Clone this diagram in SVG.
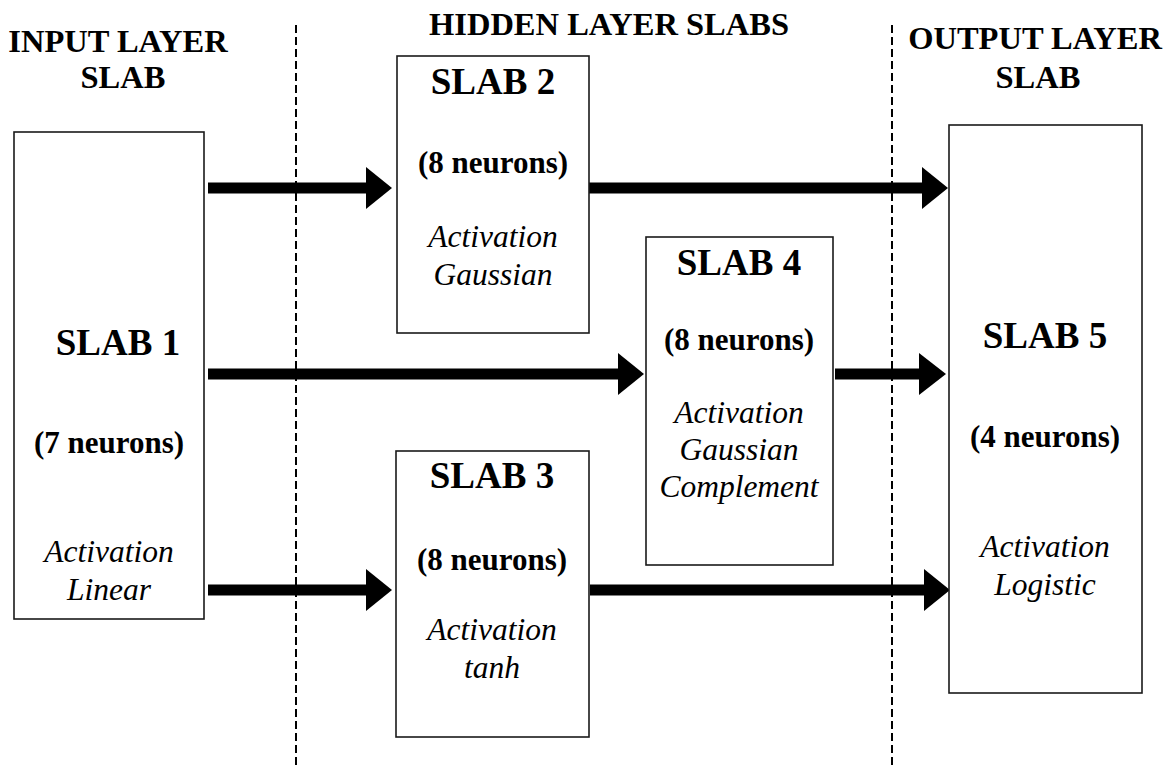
<svg xmlns="http://www.w3.org/2000/svg" width="1169" height="769" viewBox="0 0 1169 769">
<style>
  .box { fill: #ffffff; stroke: #1a1a1a; stroke-width: 1.6; }
  .hdr { font-family: "Liberation Serif", "Times New Roman", serif; font-weight: bold; font-size: 32.5px; text-anchor: middle; fill: #000; }
  .ttl { font-family: "Liberation Serif", "Times New Roman", serif; font-weight: bold; font-size: 37px; text-anchor: middle; fill: #000; }
  .cnt { font-family: "Liberation Serif", "Times New Roman", serif; font-weight: bold; font-size: 31px; text-anchor: middle; fill: #000; }
  .act { font-family: "Liberation Serif", "Times New Roman", serif; font-style: italic; font-size: 31.5px; text-anchor: middle; fill: #000; }
  .dash { stroke: #000; stroke-width: 2; stroke-dasharray: 8 4; fill: none; }
  .shaft { stroke: #000; stroke-width: 11; fill: none; }
  .head { fill: #000; }
</style>
<rect width="1169" height="769" fill="#ffffff"/>

<g id="headers">
  <text class="hdr" x="118" y="52">INPUT LAYER</text>
  <text class="hdr" x="123" y="88">SLAB</text>
  <text class="hdr" x="609" y="35">HIDDEN LAYER SLABS</text>
  <text class="hdr" x="1035" y="49">OUTPUT LAYER</text>
  <text class="hdr" x="1038" y="88">SLAB</text>
</g>

<g id="separators">
  <line class="dash" x1="296" y1="25" x2="296" y2="769"/>
  <line class="dash" x1="892" y1="25" x2="892" y2="769"/>
</g>

<g id="connectors">
  <line class="shaft" x1="208" y1="188" x2="368" y2="188"/>
  <polygon class="head" points="366,167 392,188 366,209"/>
  <line class="shaft" x1="589" y1="188" x2="924" y2="188"/>
  <polygon class="head" points="922,167 948,188 922,209"/>
  <line class="shaft" x1="208" y1="374" x2="620" y2="374"/>
  <polygon class="head" points="618,353 644,374 618,395"/>
  <line class="shaft" x1="835" y1="374" x2="921" y2="374"/>
  <polygon class="head" points="919,353 946,374 919,395"/>
  <line class="shaft" x1="208" y1="590" x2="368" y2="590"/>
  <polygon class="head" points="366,569 392,590 366,611"/>
  <line class="shaft" x1="590" y1="590" x2="926" y2="590"/>
  <polygon class="head" points="924,569 950,590 924,611"/>
</g>

<g id="slab1">
  <rect class="box" x="14" y="132" width="190" height="487"/>
  <text class="ttl" x="118" y="355">SLAB 1</text>
  <text class="cnt" x="109" y="453">(7 neurons)</text>
  <text class="act" x="109" y="562">Activation</text>
  <text class="act" x="109" y="600">Linear</text>
</g>

<g id="slab2">
  <rect class="box" x="397" y="56" width="192" height="277"/>
  <text class="ttl" x="493" y="94">SLAB 2</text>
  <text class="cnt" x="493" y="173">(8 neurons)</text>
  <text class="act" x="493" y="247">Activation</text>
  <text class="act" x="493" y="285">Gaussian</text>
</g>

<g id="slab3">
  <rect class="box" x="396" y="451" width="193" height="286"/>
  <text class="ttl" x="492" y="488">SLAB 3</text>
  <text class="cnt" x="492" y="570">(8 neurons)</text>
  <text class="act" x="492" y="640">Activation</text>
  <text class="act" x="492" y="678">tanh</text>
</g>

<g id="slab4">
  <rect class="box" x="646" y="237" width="187" height="328"/>
  <text class="ttl" x="739" y="275">SLAB 4</text>
  <text class="cnt" x="739" y="350">(8 neurons)</text>
  <text class="act" x="739" y="423">Activation</text>
  <text class="act" x="739" y="460">Gaussian</text>
  <text class="act" x="739" y="497">Complement</text>
</g>

<g id="slab5">
  <rect class="box" x="949" y="125" width="193" height="568"/>
  <text class="ttl" x="1045" y="348">SLAB 5</text>
  <text class="cnt" x="1045" y="447">(4 neurons)</text>
  <text class="act" x="1045" y="557">Activation</text>
  <text class="act" x="1045" y="595">Logistic</text>
</g>
</svg>
